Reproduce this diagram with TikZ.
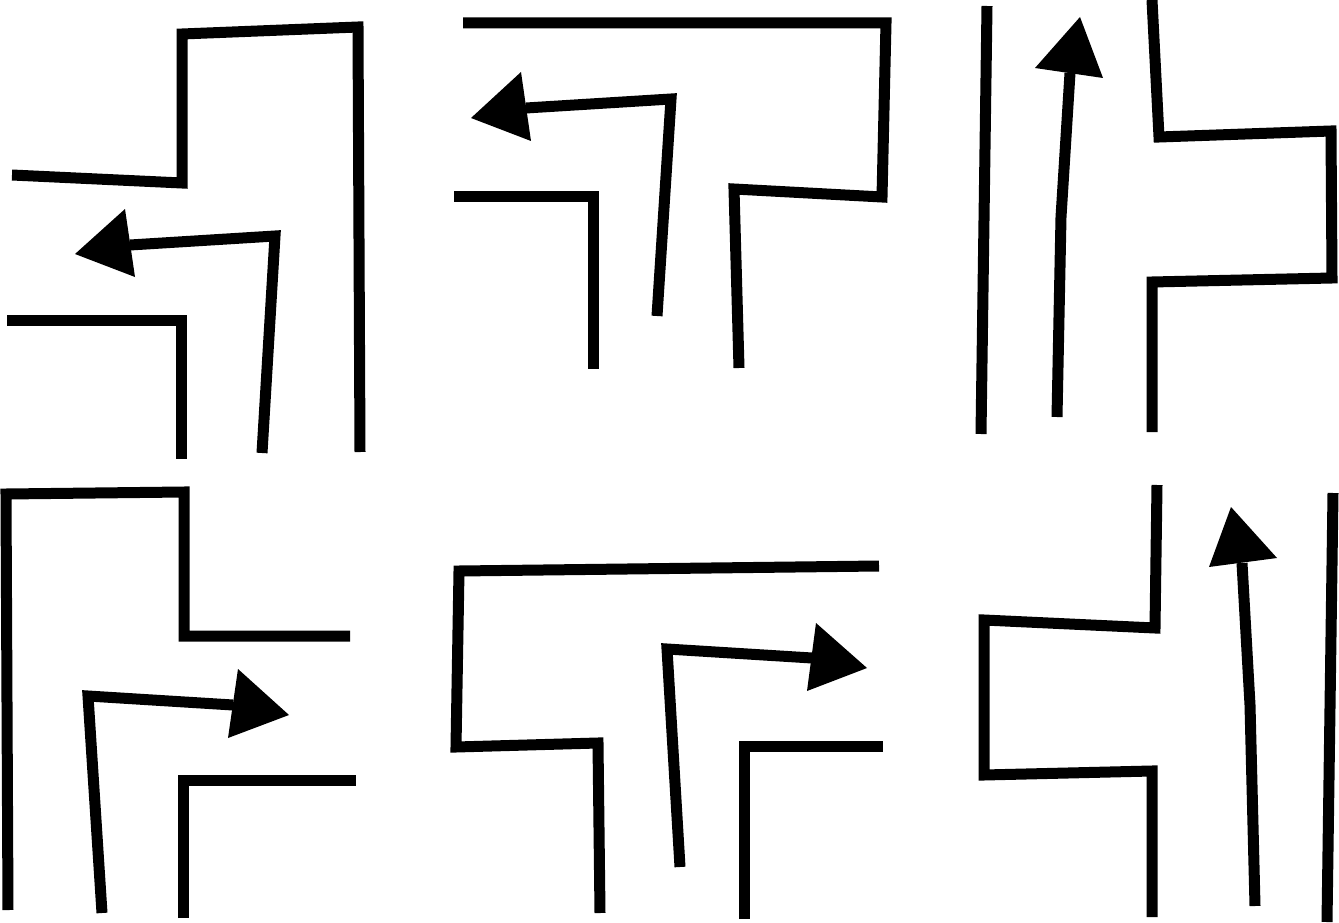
\documentclass[tikz,border=0pt]{standalone}
\begin{document}
\begin{tikzpicture}[x=1pt,y=-1pt,
  road/.style={draw=black,line width=11pt,line join=miter,line cap=butt},
  head/.style={fill=black,draw=none}]
\useasboundingbox (0,0) rectangle (1339,923);
\fill[white] (0,0) rectangle (1339,923);
% panel 1
\draw[road] (12,175) -- (182,183) -- (182,34) -- (358,27) -- (360,452);
\draw[road] (262,453) -- (275,236) -- (130,245);
\fill[head] (75,254) -- (125,209) -- (135,277) -- cycle;
\draw[road] (7,320) -- (181,320) -- (181,459);
% panel 2
\draw[road] (463,23) -- (886,23) -- (882,197) -- (734,189) -- (739,368);
\draw[road] (657,316) -- (671,99) -- (526,108);
\fill[head] (471,118) -- (521,72) -- (531,141) -- cycle;
\draw[road] (454,196) -- (593,196) -- (593,369);
% panel 3
\draw[road] (987,6) -- (981,434);
\draw[road] (1057,417) -- (1061,217) -- (1070,73);
\fill[head] (1080,17) -- (1035,68) -- (1103,78) -- cycle;
\draw[road] (1152,0) -- (1159,137) -- (1331,131) -- (1332,278) -- (1152,282) -- (1152,432);
% panel 4
\draw[road] (8,910) -- (6,494) -- (184,492) -- (184,636) -- (350,636);
\draw[road] (102,913) -- (88,696) -- (233,705);
\fill[head] (289,715) -- (238,669) -- (228,738) -- cycle;
\draw[road] (183,918) -- (183,780) -- (356,780);
% panel 5
\draw[road] (879,566) -- (459,571) -- (456,747) -- (598,743) -- (600,913);
\draw[road] (680,867) -- (667,649) -- (812,658);
\fill[head] (867,668) -- (816,623) -- (807,691) -- cycle;
\draw[road] (744,919) -- (744,746) -- (883,746);
% panel 6
\draw[road] (1157,485) -- (1155,628) -- (984,620) -- (984,775) -- (1152,771) -- (1152,917);
\draw[road] (1255,906) -- (1250,705) -- (1242,563);
\fill[head] (1231,507) -- (1209,567) -- (1277,558) -- cycle;
\draw[road] (1333,493) -- (1327,922);
\end{tikzpicture}
\end{document}
